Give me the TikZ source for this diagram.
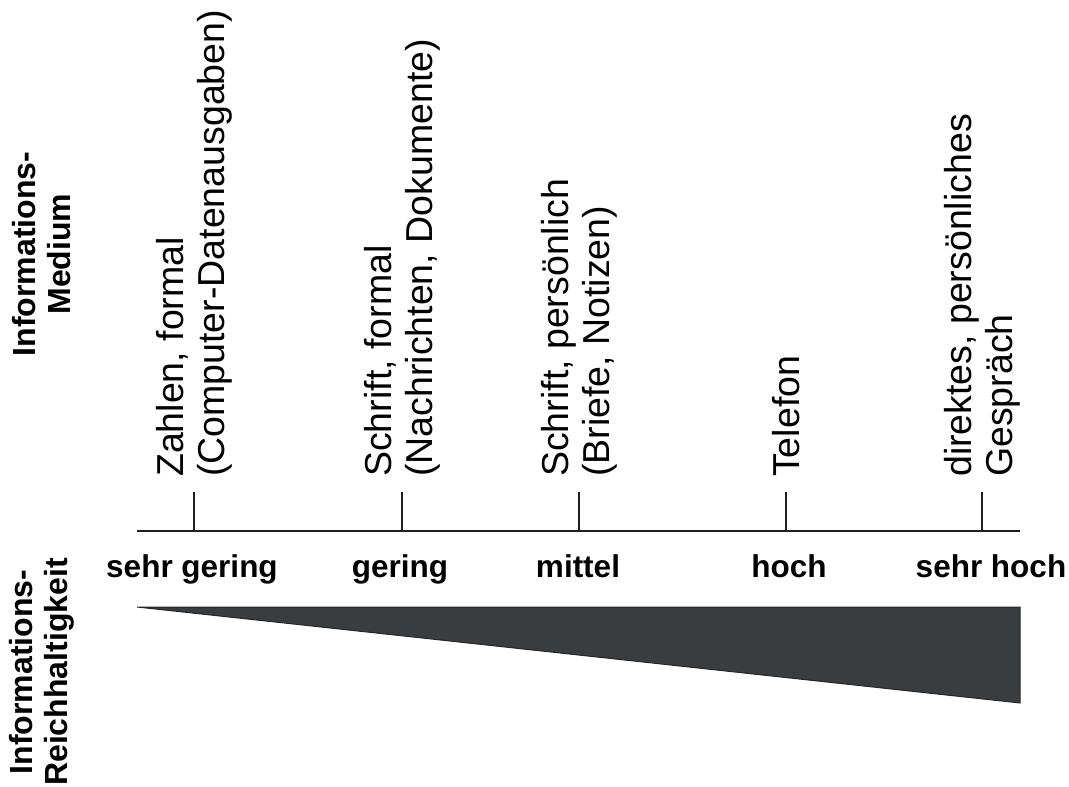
\documentclass[tikz,border=0pt]{standalone}
\usepackage{fontspec}
\setmainfont{Liberation Sans}
\begin{document}
\begin{tikzpicture}[x=1pt,y=-1pt,
  medium/.style={rotate=90,anchor=west,align=left,inner sep=0pt,font=\fontsize{37.5}{41}\selectfont},
  level/.style={anchor=base,inner sep=0pt,font=\fontsize{31.5}{35}\selectfont\bfseries},
  sidelabel/.style={rotate=90,align=center,inner sep=0pt,font=\fontsize{32}{35}\selectfont\bfseries},
  axis/.style={line width=2pt,draw=black!88},
  wedge/.style={fill=wedgegray,draw=black!85,line width=1pt}]
\definecolor{wedgegray}{HTML}{3A3D40}
\useasboundingbox (0,0) rectangle (1069,787);
% side labels
\node[sidelabel] (lmed) at (42,254) {Informations-\\Medium};
\node[sidelabel] (lreich) at (42,672) {Informations-\\Reichhaltigkeit};
% axis
\coordinate (a0) at (137,531);
\coordinate (a1) at (1020,531);
\draw[axis] (a0) -- (a1);
% ticks
\foreach \n/\x in {t1/194,t2/402,t3/579,t4/786,t5/982}{
  \coordinate (\n top) at (\x,492);
  \coordinate (\n bot) at (\x,531);
  \draw[axis] (\n top) -- (\n bot);
}
% medium labels
\node[medium] (m1) at (194,477) {Zahlen, formal\\(Computer-Datenausgaben)};
\node[medium] (m2) at (402,477) {Schrift, formal\\(Nachrichten, Dokumente)};
\node[medium] (m3) at (579,477) {Schrift, persönlich\\(Briefe, Notizen)};
\node[medium] (m4) at (786,477) {Telefon};
\node[medium] (m5) at (982,477) {direktes, persönliches\\Gespräch};
% level labels
\node[level] (l1) at (192,577) {sehr gering};
\node[level] (l2) at (400,577) {gering};
\node[level] (l3) at (578,577) {mittel};
\node[level] (l4) at (789,577) {hoch};
\node[level] (l5) at (991,577) {sehr hoch};
% wedge
\coordinate (w1) at (137,607);
\coordinate (w2) at (1020,607);
\coordinate (w3) at (1020,703);
\draw[wedge] (w1) -- (w2) -- (w3) -- cycle;
\end{tikzpicture}
\end{document}
